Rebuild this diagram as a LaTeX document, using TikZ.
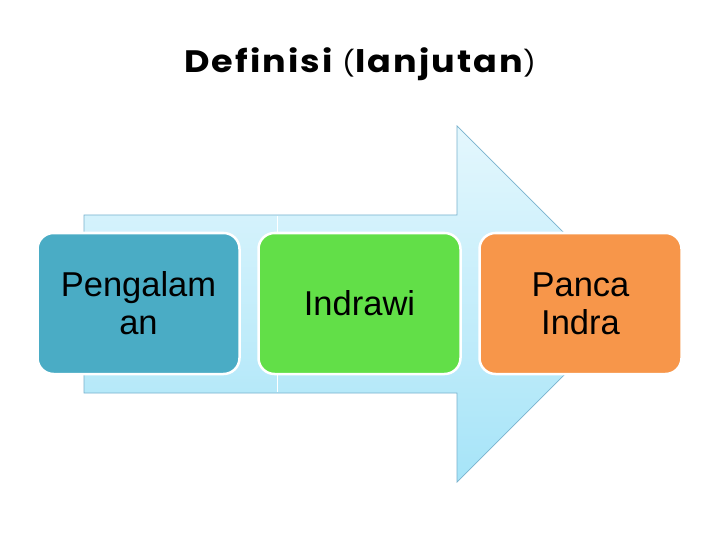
\documentclass[tikz,border=0pt]{standalone}
\usepackage{graphicx}
\usepackage{fontspec}
\setmainfont{Liberation Sans}
\newfontfamily\titlefont{Poppins}[LetterSpace=6]
\begin{document}
\begin{tikzpicture}[x=1pt,y=-1pt,
  box/.style={draw=white,line width=2.5pt,rounded corners=16pt,
    minimum width=202pt,minimum height=141pt,inner sep=0pt,align=center,
    font=\fontsize{34.5}{38}\selectfont,text=black},
  arrowedge/.style={draw=arrowline,line width=0.7pt}]
\definecolor{arrowtop}{HTML}{E4F7FD}
\definecolor{arrowbot}{HTML}{A6E4F8}
\definecolor{arrowline}{HTML}{78B2CE}
\definecolor{boxblue}{HTML}{4AACC5}
\definecolor{boxgreen}{HTML}{62DF48}
\definecolor{boxorange}{HTML}{F7964A}
\useasboundingbox[fill=white] (0,0) rectangle (720,540);
% title
\node[anchor=base,inner sep=0pt] (title) at (360,73)
  {\scalebox{1.13}[1]{\titlefont\fontsize{31}{36}\selectfont\bfseries Definisi {\mdseries\fontsize{25}{30}\selectfont(}lanjutan{\mdseries\fontsize{25}{30}\selectfont)}}};
% arrow
\coordinate (a1) at (84,215);
\coordinate (a2) at (457,215);
\coordinate (a3) at (457,126);
\coordinate (a4) at (635,304);
\coordinate (a5) at (457,482);
\coordinate (a6) at (457,393);
\coordinate (a7) at (84,393);
\shade[top color=arrowtop,bottom color=arrowbot] (a1) -- (a2) -- (a3) -- (a4) -- (a5) -- (a6) -- (a7) -- cycle;
\draw[arrowedge] (a1) -- (a2) -- (a3) -- (a4) -- (a5) -- (a6) -- (a7) -- cycle;
\coordinate (d1) at (277,216);
\coordinate (d2) at (277,392);
\draw[white,line width=0.8pt] (d1) -- (d2);
% boxes
\node[box,fill=boxblue] (b1) at (138.5,303.5) {Pengalam\\an};
\node[box,fill=boxgreen] (b2) at (359.5,303.5) {Indrawi};
\node[box,fill=boxorange] (b3) at (580.5,303.5) {Panca\\Indra};
\end{tikzpicture}
\end{document}
